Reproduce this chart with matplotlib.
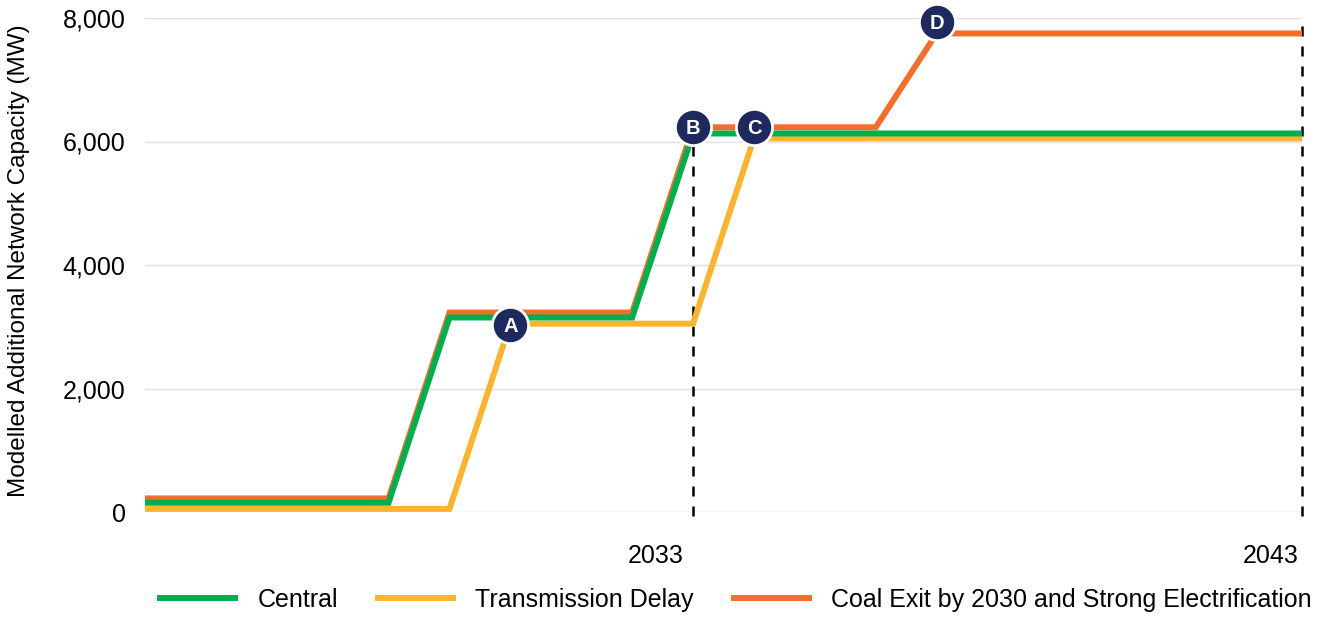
import numpy as np
import matplotlib.pyplot as plt
from matplotlib.lines import Line2D

plt.rcParams['font.family'] = ['Liberation Sans', 'DejaVu Sans']

years = list(range(2024, 2044))

# modelled additional network capacity (MW), one value per year
central = [150, 150, 150, 150, 150, 3150, 3150, 3150, 3150, 6130,
           6130, 6130, 6130, 6130, 6130, 6130, 6130, 6130, 6130, 6130]
delay = [50, 50, 50, 50, 50, 50, 3050, 3050, 3050, 3050,
         6050, 6050, 6050, 6050, 6050, 6050, 6050, 6050, 6050, 6050]
coal_exit = [220, 220, 220, 220, 220, 3230, 3230, 3230, 3230, 6230,
             6230, 6230, 6230, 7750, 7750, 7750, 7750, 7750, 7750, 7750]

marker_labels = ['A', 'B', 'C', 'D']
marker_years = [2030, 2033, 2034, 2037]
marker_values = [3030, 6235, 6235, 7935]

# dashed guide lines: year and top value
dashed_years = [2033, 2043]
dashed_tops = [6235, 8000]

tick_years = [2033, 2043]
tick_shift = [0.62, 0.52]   # labels sit a bit left of the guide line

c_green = '#00ae4f'
c_yellow = '#fbb332'
c_orange = '#f26e2c'
c_navy = '#1e2a5e'

fig = plt.figure(figsize=(13.27, 6.17), dpi=100)
ax = fig.add_axes([145 / 1327, 1 - 512 / 617, (1302 - 145) / 1327, (512 - 18) / 617])

ax.plot(years, delay, color=c_yellow, lw=4.3, solid_joinstyle='miter', zorder=3)
ax.plot(years, central, color=c_green, lw=4.3, solid_joinstyle='miter', zorder=4)
ax.plot(years, coal_exit, color=c_orange, lw=4.3, solid_joinstyle='miter', zorder=2)

for x, top in zip(dashed_years, dashed_tops):
    ax.plot([x, x], [-70, top], color='black', lw=1.8, ls=(0, (4, 4)),
            zorder=1, clip_on=False)

for lab, x, y in zip(marker_labels, marker_years, marker_values):
    ax.scatter([x], [y], s=680, color=c_navy, edgecolor='white', linewidth=2,
               zorder=6, clip_on=False)
    ax.text(x, y - 20, lab, color='white', fontsize=14.5, fontweight='bold',
            ha='center', va='center', zorder=7)

ax.set_xlim(2024, 2043)
ax.set_ylim(0, 8000)
ax.set_yticks([0, 2000, 4000, 6000, 8000])
ax.set_yticklabels(['{:,}'.format(v) for v in [0, 2000, 4000, 6000, 8000]])
ax.set_xticks([y - d for y, d in zip(tick_years, tick_shift)])
ax.set_xticklabels([str(y) for y in tick_years])
ax.tick_params(axis='both', length=0, labelsize=18)
ax.tick_params(axis='x', pad=23)
ax.tick_params(axis='y', pad=14)
ax.grid(axis='y', color='#e3e0e3', lw=1)
ax.set_axisbelow(True)
for s in ax.spines.values():
    s.set_visible(False)

ax.set_ylabel('Modelled Additional Network Capacity (MW)', fontsize=17.5)
ax.yaxis.set_label_coords(-(145 - 30) / (1302 - 145), (512 - 261) / (512 - 18))

handles = [Line2D([], [], color=c_green, lw=4.3),
           Line2D([], [], color=c_yellow, lw=4.3),
           Line2D([], [], color=c_orange, lw=4.3)]
fig.legend(handles, ['Central', 'Transmission Delay',
                     'Coal Exit by 2030 and Strong Electrification'],
           loc='center', bbox_to_anchor=(736 / 1327, 1 - 600 / 617), ncol=3,
           frameon=False, fontsize=18, handlelength=3.0, columnspacing=1.6,
           handletextpad=0.9)

fig.savefig('out.png', dpi=100)
